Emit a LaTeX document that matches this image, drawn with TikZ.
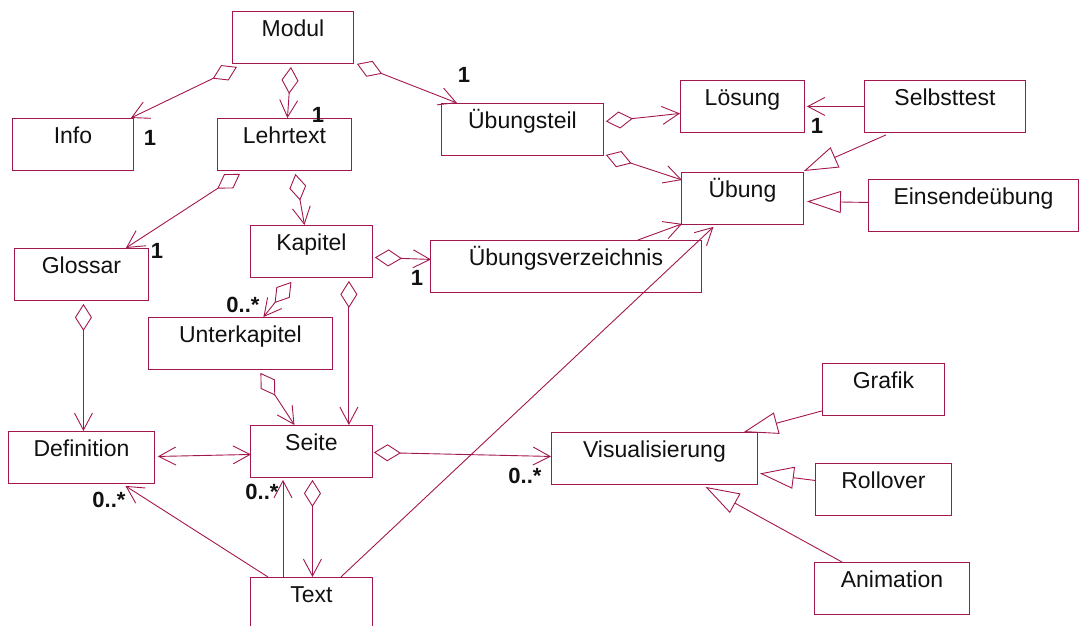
\documentclass[tikz,border=0pt]{standalone}
\usepackage{fontspec}
\setmainfont{Liberation Sans}
\usepackage{tikz}
\usetikzlibrary{arrows.meta,calc}
\definecolor{UmlLine}{HTML}{A3174F}
\definecolor{UmlInk}{HTML}{111111}

\begin{document}
\begin{tikzpicture}[
  x=1pt,y=-1pt,
  font=\fontsize{23}{27}\selectfont,
  cls/.style={draw=UmlLine,line width=0.9pt,anchor=north west,inner xsep=0pt,
    inner ysep=0pt,text height=25pt,text depth=27pt,minimum height=52pt,
    text=UmlInk},
  mult/.style={font=\fontsize{22}{26}\selectfont\bfseries,inner sep=0pt,
    text=UmlInk},
  link/.style={draw=UmlLine,line width=0.9pt},
  assoc/.style={link,-{Straight Barb[length=17pt,width=18pt]}},
  agg/.style={link,{Diamond[open,length=27pt,width=17pt]}-{Straight Barb[length=17pt,width=18pt]}},
  twoway/.style={link,{Straight Barb[length=17pt,width=18pt]}-{Straight Barb[length=17pt,width=18pt]}},
  gen/.style={link,-{Triangle[open,length=34pt,width=22pt]}}
]
  \useasboundingbox (0,0) rectangle (1080,626);

  \node[cls,minimum width=121pt] (modul) at (232,11) {Modul};
  \node[cls,minimum width=121pt] (info) at (12,118) {Info};
  \node[cls,minimum width=134pt] (lehrtext) at (217,118) {Lehrtext};
  \node[cls,minimum width=162pt] (uebungsteil) at (441,103) {Übungsteil};
  \node[cls,minimum width=124pt] (loesung) at (680,80) {Lösung};
  \node[cls,minimum width=161pt] (selbsttest) at (864,80) {Selbsttest};
  \node[cls,minimum width=122pt] (uebung) at (681,172) {Übung};
  \node[cls,minimum width=210pt] (einsende) at (868,179) {Einsendeübung};
  \node[cls,minimum width=134pt] (glossar) at (14,248) {Glossar};
  \node[cls,minimum width=122pt] (kapitel) at (250,225) {Kapitel};
  \node[cls,minimum width=271pt] (uebverz) at (430,240) {Übungsverzeichnis};
  \node[cls,minimum width=184pt] (unterkap) at (148,317) {Unterkapitel};
  \node[cls,minimum width=146pt] (definition) at (8,431) {Definition};
  \node[cls,minimum width=122pt] (seite) at (250,425) {Seite};
  \node[cls,minimum width=122pt] (text) at (250,577) {Text};
  \node[cls,minimum width=206pt] (visual) at (551,432) {Visualisierung};
  \node[cls,minimum width=122pt] (grafik) at (822,363) {Grafik};
  \node[cls,minimum width=136pt] (rollover) at (815,463) {Rollover};
  \node[cls,minimum width=155pt] (animation) at (814,562) {Animation};

  \draw[agg] ($(modul.south west)+(5,3)$) -- ($(info.north east)+(-3,0)$);
  \draw[agg] ($(modul.south)+(-2,3)$) -- ($(lehrtext.north)+(3,0)$);
  \draw[agg] ($(modul.south east)+(3,0)$) -- ($(uebungsteil.north west)+(16,0)$);
  \draw[agg] ($(lehrtext.south west)+(23,3)$) -- ($(glossar.north east)+(-23,0)$);
  \draw[agg] ($(lehrtext.south)+(11,3)$) -- ($(kapitel.north)+(-7,0)$);
  \draw[agg] ($(kapitel.south)+(-20,4)$) -- ($(unterkap.north)+(23,0)$);
  \draw[agg] ($(kapitel.east)+(2,6)$) -- ($(uebverz.west)+(1,-7)$);
  \draw[agg] ($(kapitel.south east)+(-24,3)$) -- ($(seite.north east)+(-24,0)$);
  \draw[agg] ($(uebungsteil.east)+(2,-8)$) -- ($(loesung.west)+(0,7)$);
  \draw[agg] ($(uebungsteil.south east)+(2,-1)$) -- ($(uebung.north west)+(1,8)$);
  \draw[agg] ($(glossar.south)+(2,3)$) -- ($(definition.north)+(2,0)$);
  \draw[agg] ($(unterkap.south)+(20,3)$) -- ($(seite.north)+(-17,0)$);
  \draw[agg] ($(seite.south)+(1,2)$) -- ($(text.north)+(1,0)$);
  \draw[agg] ($(seite.east)+(1,1)$) -- ($(visual.west)+(0,-2)$);

  \draw[assoc] (selbsttest.west) -- ($(loesung.east)+(2,0)$);
  \draw[assoc] ($(uebverz.north east)+(-64,0)$) -- ($(uebung.south west)+(1,-1)$);
  \draw[assoc] ($(text.north east)+(-32,0)$) -- ($(uebung.south)+(-29,2)$);
  \draw[assoc] ($(text.north west)+(18,0)$) -- ($(definition.south)+(44,2)$);
  \draw[assoc] ($(text.north west)+(33,0)$) -- ($(seite.south west)+(33,2)$);
  \draw[twoway] ($(definition.east)+(3,-1)$) -- ($(seite.west)+(1,3)$);

  \draw[gen] ($(selbsttest.south west)+(22,2)$) -- ($(uebung.north east)+(0,-1)$);
  \draw[gen] ($(einsende.west)+(0,-3)$) -- ($(uebung.east)+(3,3)$);
  \draw[gen] ($(grafik.south west)+(0,-5)$) -- ($(visual.north east)+(-14,0)$);
  \draw[gen] ($(rollover.west)+(0,-9)$) -- ($(visual.east)+(2,15)$);
  \draw[gen] ($(animation.north)+(-50,0)$) -- ($(visual.south)+(51,2)$);

  \node[mult] (mInfo) at (150,138) {1};
  \node[mult] (mLehrtext) at (318,115) {1};
  \node[mult] (mUebungsteil) at (464,75) {1};
  \node[mult] (mGlossar) at (157,251) {1};
  \node[mult] (mLoesung) at (817,126) {1};
  \node[mult] (mUebverz) at (417,278) {1};
  \node[mult] (mUnterkap) at (243,305) {0..*};
  \node[mult] (mDefinition) at (109,500) {0..*};
  \node[mult] (mSeite) at (262,492) {0..*};
  \node[mult] (mVisual) at (525,476) {0..*};
\end{tikzpicture}
\end{document}
